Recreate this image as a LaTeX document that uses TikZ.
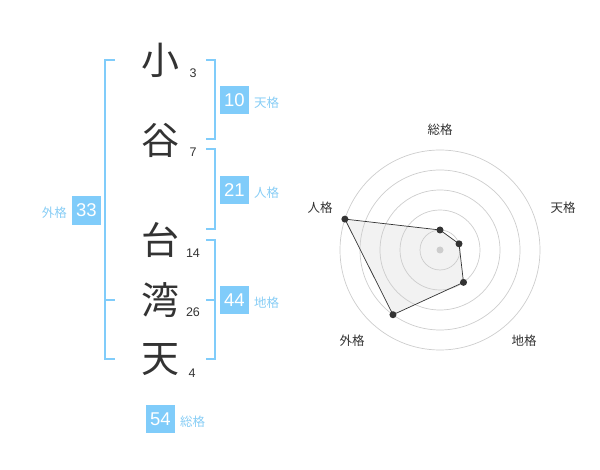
\documentclass[tikz,border=0pt]{standalone}
\usepackage{fontspec}
\setmainfont{Liberation Sans}
\newfontfamily\cjk{Noto Sans CJK JP}
\usetikzlibrary{positioning}
\definecolor{kakublue}{RGB}{128,204,250}
\definecolor{kakutext}{RGB}{135,205,245}
\definecolor{ink}{RGB}{51,51,51}
\definecolor{ring}{RGB}{205,205,205}
\definecolor{web}{RGB}{242,242,242}

\begin{document}
\begin{tikzpicture}[x=1pt,y=-1pt,
  kanji/.style={font=\cjk\fontsize{38}{38}\selectfont,text=ink,inner sep=0},
  strokes/.style={font=\fontsize{12.5}{12.5}\selectfont,text=ink,inner sep=0},
  kakubox/.style={fill=kakublue,text=white,minimum size=28.5pt,inner sep=0,
    font=\fontsize{18.5}{18.5}\selectfont},
  kakulabel/.style={text=kakutext,inner sep=0,font=\cjk\fontsize{12.5}{12.5}\selectfont},
  bracket/.style={draw=kakublue,line width=2pt},
  axislabel/.style={text=ink,inner sep=0,font=\cjk\fontsize{12.5}{12.5}\selectfont},
  dot/.style={circle,fill=ink,inner sep=0,minimum size=7pt}]
\useasboundingbox (0,0) rectangle (600,470);

% name and stroke counts
\path
(160,60)  node[kanji] (k1) {小}
(193,73)  node[strokes] (s1) {3}
(160,140) node[kanji] (k2) {谷}
(193,152) node[strokes] (s2) {7}
(160,240) node[kanji] (k3) {台}
(193,253) node[strokes] (s3) {14}
(160,300) node[kanji] (k4) {湾}
(193,312) node[strokes] (s4) {26}
(160,360) node[kanji] (k5) {天}
(192,373) node[strokes] (s5) {4};

% brackets
\draw[bracket] (115,60) -- (105,60) -- (105,359) -- (115,359);
\draw[bracket] (105,300) -- (115,300);
\draw[bracket] (206,60) -- (215,60) -- (215,139) -- (206,139);
\draw[bracket] (206,149) -- (215,149) -- (215,229) -- (206,229);
\draw[bracket] (206,240) -- (215,240) -- (215,359) -- (206,359);
\draw[bracket] (206,300) -- (215,300);

% kaku values
\node[kakubox] (ten) at (234.5,100) {10};
\node[kakulabel,right=5pt of ten,yshift=-2.5pt] {天格};
\node[kakubox] (jin) at (234.5,190) {21};
\node[kakulabel,right=5pt of jin,yshift=-2.5pt] {人格};
\node[kakubox] (chi) at (234.5,300) {44};
\node[kakulabel,right=5pt of chi,yshift=-2.5pt] {地格};
\node[kakubox] (gai) at (86.5,210.5) {33};
\node[kakulabel,left=5pt of gai,yshift=-2.5pt] {外格};
\node[kakubox] (sou) at (160.5,419) {54};
\node[kakulabel,right=5pt of sou,yshift=-2.5pt] {総格};

% radar
\begin{scope}[shift={(440,250)},y=1pt]
\coordinate (rsou) at (90:20);
\coordinate (rten) at (18:20);
\coordinate (rchi) at (-54:40);
\coordinate (rgai) at (-126:80);
\coordinate (rjin) at (162:100);
\fill[web] (rsou) -- (rten) -- (rchi) -- (rgai) -- (rjin) -- cycle;
\foreach \r in {20,40,...,100}
  \draw[ring,line width=0.7pt] (0,0) circle[radius=\r];
\fill[ring] (0,0) circle[radius=3.5];
\draw[ink,line width=0.7pt] (rsou) -- (rten) -- (rchi) -- (rgai) -- (rjin) -- cycle;
\foreach \p in {rsou,rten,rchi,rgai,rjin}
  \node[dot] at (\p) {};
\node[axislabel] (lsou) at (0,120) {総格};
\node[axislabel] (lten) at (123,42) {天格};
\node[axislabel] (ljin) at (-120,42) {人格};
\node[axislabel] (lgai) at (-88,-91) {外格};
\node[axislabel] (lchi) at (84,-91) {地格};
\end{scope}
\end{tikzpicture}
\end{document}
